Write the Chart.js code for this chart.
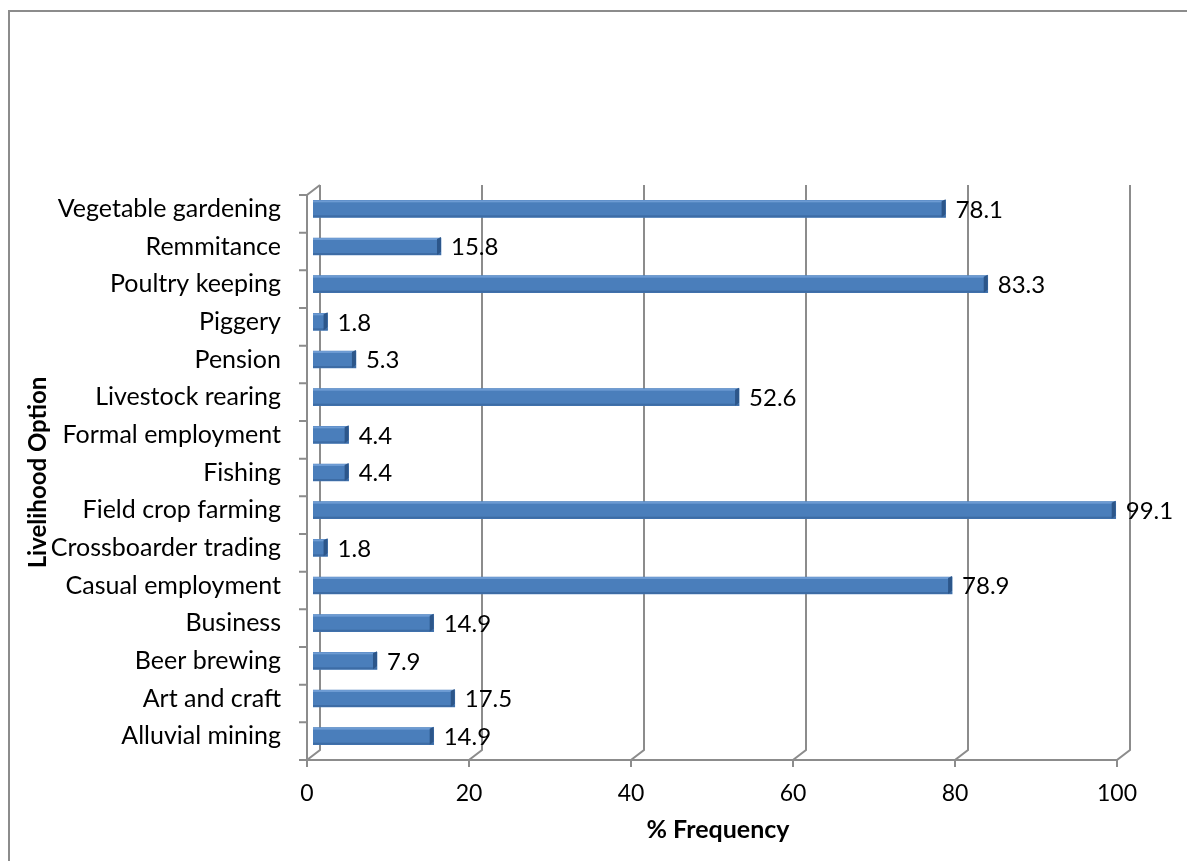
<!DOCTYPE html>
<html>
<head>
<meta charset="utf-8">
<title>Livelihood options</title>
<script src="https://cdn.jsdelivr.net/npm/chart.js@4.4.1/dist/chart.umd.min.js"></script>
<style>
    html, body { margin: 0; padding: 0; background: #fff; overflow: hidden; }
    #frame { position: absolute; left: 8px; top: 10px; width: 1200px; height: 900px; border: 2px solid #8c8c8c; }
    #wrap { position: absolute; left: 0; top: 0; width: 1187px; height: 861px; }
</style>
</head>
<body>
<div id="frame"></div>
<div id="wrap"><canvas id="livelihoodChart" width="1187" height="861"></canvas></div>
<script>
// categories, top to bottom as shown
const livelihoods = [
    'Vegetable gardening', 'Remmitance', 'Poultry keeping', 'Piggery', 'Pension',
    'Livestock rearing', 'Formal employment', 'Fishing', 'Field crop farming',
    'Crossboarder trading', 'Casual employment', 'Business', 'Beer brewing',
    'Art and craft', 'Alluvial mining'
];
const frequency = [78.1, 15.8, 83.3, 1.8, 5.3, 52.6, 4.4, 4.4, 99.1, 1.8, 78.9, 14.9, 7.9, 17.5, 14.9];
const xTicks = [0, 20, 40, 60, 80, 100];

const FONT = 'Lato, "Open Sans", sans-serif';
const GREY = '#8c8c8c';

// Excel style 3D frame: back wall gridlines, floor diagonals, left wall
const frame3d = {
    id: 'frame3d',
    beforeDatasetsDraw(chart) {
        const { ctx, chartArea: ca, scales: { x, y } } = chart;
        const front = v => x.getPixelForValue(v) - 6;
        const back = v => x.getPixelForValue(v) + 7;
        const floorF = ca.bottom + 5, floorB = ca.bottom - 5;
        const topF = ca.top + 5, topB = ca.top - 5;
        ctx.save();
        ctx.strokeStyle = GREY;
        ctx.lineWidth = 2;
        ctx.beginPath();
        xTicks.forEach(v => {
            ctx.moveTo(back(v), topB);
            ctx.lineTo(back(v), floorB);
            ctx.lineTo(front(v), floorF);
            ctx.lineTo(front(v), floorF + 7);
        });
        // floor front edge
        ctx.moveTo(front(0), floorF);
        ctx.lineTo(front(100), floorF);
        // left wall front edge
        ctx.moveTo(front(0), floorF);
        ctx.lineTo(front(0), topF);
        ctx.lineTo(back(0), topB);
        // category tick marks
        const band = (ca.bottom - ca.top) / livelihoods.length;
        for (let i = 0; i <= livelihoods.length; i++) {
            const ty = ca.top + i * band + 5;
            ctx.moveTo(front(0) - 8, ty);
            ctx.lineTo(front(0), ty);
        }
        ctx.stroke();
        ctx.restore();
    },
    afterDatasetsDraw(chart) {
        const { ctx } = chart;
        const meta = chart.getDatasetMeta(0);
        ctx.save();
        meta.data.forEach((bar, i) => {
            const h = bar.height, top = bar.y - h / 2;
            // lighter top edge and darker underside
            ctx.fillStyle = '#6d9bd3';
            ctx.fillRect(bar.base, top, bar.x - bar.base, 2);
            ctx.fillStyle = '#3d6ca5';
            ctx.fillRect(bar.base, top + h - 2, bar.x - bar.base, 2);
            // end cap
            ctx.fillStyle = '#2c568a';
            ctx.beginPath();
            ctx.moveTo(bar.x - 4, top + 1);
            ctx.lineTo(bar.x, top - 1);
            ctx.lineTo(bar.x, top + h - 3);
            ctx.lineTo(bar.x - 4, top + h);
            ctx.closePath();
            ctx.fill();
            // value label
            ctx.fillStyle = '#000';
            ctx.font = '24px ' + FONT;
            ctx.textBaseline = 'middle';
            ctx.textAlign = 'left';
            ctx.fillText(frequency[i].toFixed(1), bar.x + 10, bar.y + 1);
        });
        ctx.restore();
    }
};

new Chart(document.getElementById('livelihoodChart'), {
    type: 'bar',
    data: {
        labels: livelihoods,
        datasets: [{
            label: '% Frequency',
            data: frequency,
            backgroundColor: '#4a7ebb',
            borderWidth: 0,
            barThickness: 17
        }]
    },
    options: {
        indexAxis: 'y',
        responsive: false,
        animation: false,
        layout: { padding: { top: 190, right: 64, bottom: 0, left: 0 } },
        plugins: {
            legend: { display: false },
            tooltip: { enabled: false }
        },
        scales: {
            x: {
                min: 0,
                max: 100,
                afterBuildTicks: s => { s.ticks = xTicks.map(v => ({ value: v })); },
                grid: { display: false, drawTicks: false },
                border: { display: false },
                ticks: { color: '#000', font: { family: FONT, size: 23 }, padding: 25, labelOffset: -6 },
                title: { display: true, text: '% Frequency', color: '#000', font: { family: FONT, size: 25, weight: 'bold' }, padding: { top: 0, bottom: 16 } },
                afterFit: s => { s.height = 106; }
            },
            y: {
                grid: { display: false, drawTicks: false },
                border: { display: false },
                ticks: { color: '#000', font: { family: FONT, size: 25 }, padding: 32 },
                title: { display: true, text: 'Livelihood Option', color: '#000', font: { family: FONT, size: 24, weight: 'bold' }, padding: { top: 24, bottom: 0 } },
                afterFit: s => { s.width = 313; }
            }
        }
    },
    plugins: [frame3d]
});
</script>
</body>
</html>
